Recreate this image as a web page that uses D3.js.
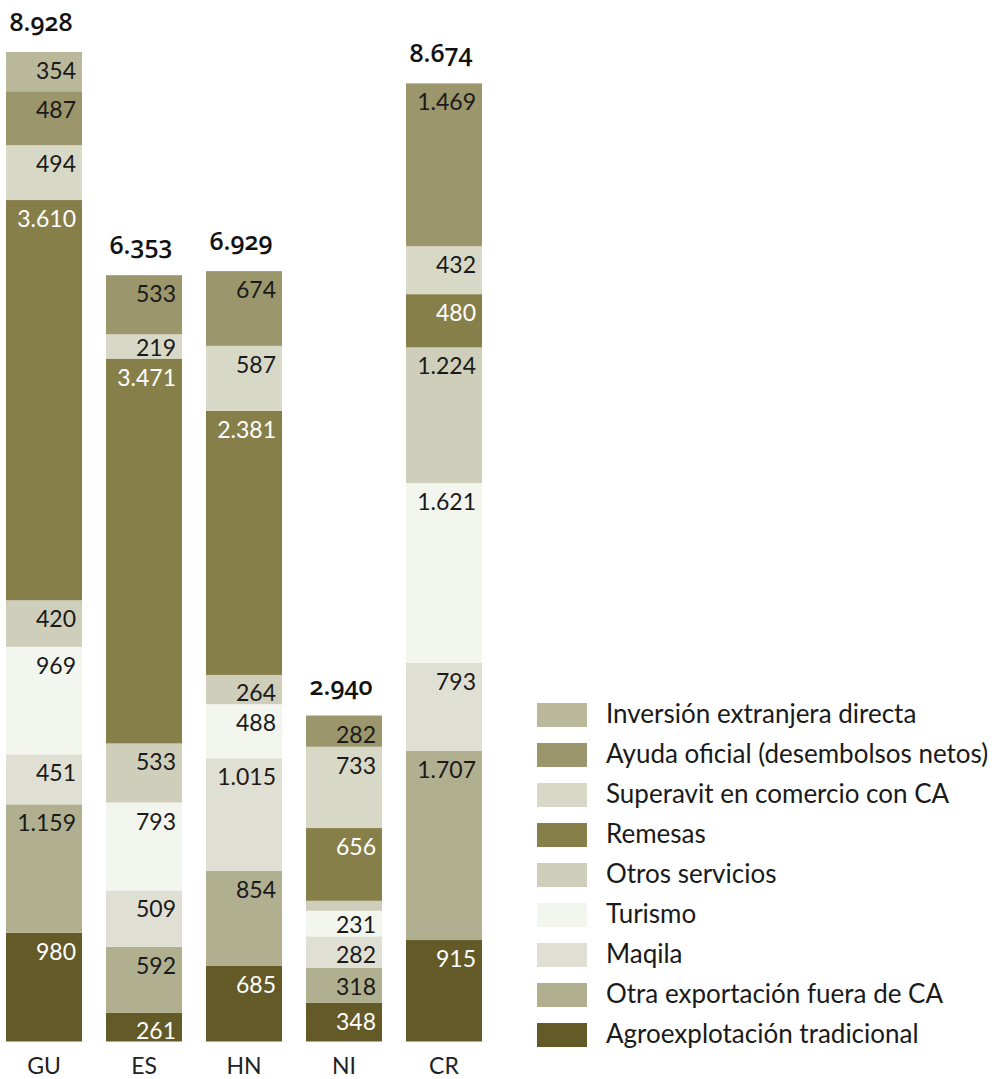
<!DOCTYPE html>
<html>
<head>
<meta charset="utf-8">
<script src="https://cdn.jsdelivr.net/npm/d3@7"></script>
<style>
  html, body { margin: 0; padding: 0; background: #ffffff; }
  svg { display: block; }
  text { font-family: Lato, "Open Sans", sans-serif; }
</style>
</head>
<body>
<svg id="chart" width="998" height="1079"></svg>
<script>
// ---- Data (GU, ES, HN, NI, CR) ----
const countries = ["GU", "ES", "HN", "NI", "CR"];
const totals = [8928, 6353, 6929, 2940, 8674];

const agroTradicional   = [980, 261, 685, 348, 915];
const otraExportacion   = [1159, 592, 854, 318, 1707];
const maqila            = [451, 509, 1015, 282, 793];
const turismo           = [969, 793, 488, 231, 1621];
const otrosServicios    = [420, 533, 264, 90, 1224];
const remesas           = [3610, 3471, 2381, 656, 480];
const superavitCA       = [494, 219, 587, 733, 432];
const ayudaOficial      = [487, 533, 674, 282, 1469];
const inversionDirecta  = [354, 0, 0, 0, 0];

// stacking order bottom -> top
const seriesNames = [
  "Agroexplotación tradicional",
  "Otra exportación fuera de CA",
  "Maqila",
  "Turismo",
  "Otros servicios",
  "Remesas",
  "Superavit en comercio con CA",
  "Ayuda oficial (desembolsos netos)",
  "Inversión extranjera directa"
];
const seriesValues = [agroTradicional, otraExportacion, maqila, turismo, otrosServicios,
                      remesas, superavitCA, ayudaOficial, inversionDirecta];
const seriesColors = ["#635a28", "#b0af8f", "#e0dfd3", "#f3f5ef", "#cfcebb",
                      "#877f49", "#d8d8c7", "#9b966b", "#b9b89b"];
const darkSeries = new Set(["Agroexplotación tradicional", "Remesas"]);

// ---- Build table ----
const table = countries.map((c, i) => {
  const row = { country: c };
  seriesNames.forEach((s, k) => row[s] = seriesValues[k][i]);
  return row;
});
const stack = d3.stack().keys(seriesNames)(table);
const sums = table.map(r => d3.sum(seriesNames, s => r[s]));

const svg = d3.select("#chart");
const x = d3.scaleBand().domain(countries).range([6, 482]).paddingInner(0.24).paddingOuter(0);
const y = d3.scaleLinear().domain([0, d3.max(sums)]).range([1041.5, 52]);
const color = d3.scaleOrdinal().domain(seriesNames).range(seriesColors);

const loc = d3.formatLocale({ decimal: ",", thousands: ".", grouping: [3], currency: ["", ""] });
const fmt = loc.format(",d");

// ---- Bars ----
const layers = svg.append("g").selectAll("g").data(stack).join("g")
  .attr("fill", d => color(d.key));
layers.selectAll("rect").data(d => d.map(p => ({ key: d.key, p }))).join("rect")
  .filter(d => d.p[1] - d.p[0] > 0)
  .attr("x", d => x(d.p.data.country))
  .attr("width", x.bandwidth())
  .attr("y", d => y(d.p[1]))
  .attr("height", d => y(d.p[0]) - y(d.p[1]));

// ---- Segment labels ----
const labelG = svg.append("g");
stack.forEach(layer => {
  layer.forEach(p => {
    const v = p[1] - p[0];
    if (v < 150) return;
    const top = y(p[1]), bottom = y(p[0]);
    labelG.append("text")
      .attr("x", x(p.data.country) + x.bandwidth() - 6)
      .attr("y", Math.min(top + 27, bottom - 3))
      .attr("text-anchor", "end")
      .attr("font-size", 23)
      .attr("fill", darkSeries.has(layer.key) ? "#ffffff" : "#1a1a1a")
      .text(fmt(v));
  });
});

// ---- Totals ----
svg.append("g").selectAll("text").data(countries).join("text")
  .attr("x", d => x(d) + x.bandwidth() / 2 - 3)
  .attr("y", (d, i) => y(sums[i]) - 21)
  .attr("text-anchor", "middle")
  .attr("font-size", 25)
  .attr("font-weight", 600)
  .style("font-family", "'Open Sans', Lato, sans-serif")
  .style("font-variant-numeric", "oldstyle-nums")
  .attr("fill", "#111")
  .text((d, i) => fmt(totals[i]));

// ---- X axis labels ----
const xAxis = d3.axisBottom(x).tickSize(0).tickPadding(0);
const ax = svg.append("g").attr("transform", "translate(0,1058)").call(xAxis);
ax.select(".domain").remove();
ax.selectAll("text")
  .attr("font-size", 23)
  .attr("fill", "#222")
  .attr("dy", "0.71em")
  .style("font-family", "Lato, 'Open Sans', sans-serif");

// ---- Legend ----
const legendOrder = seriesNames.slice().reverse();
const lg = svg.append("g").attr("transform", "translate(537,703)");
const items = lg.selectAll("g").data(legendOrder).join("g")
  .attr("transform", (d, i) => `translate(0,${i * 40})`);
items.append("rect").attr("width", 50).attr("height", 24).attr("fill", d => color(d));
items.append("text")
  .attr("x", 69).attr("y", 20)
  .attr("font-size", 26)
  .attr("fill", "#1a1a1a")
  .text(d => d);
</script>
</body>
</html>
